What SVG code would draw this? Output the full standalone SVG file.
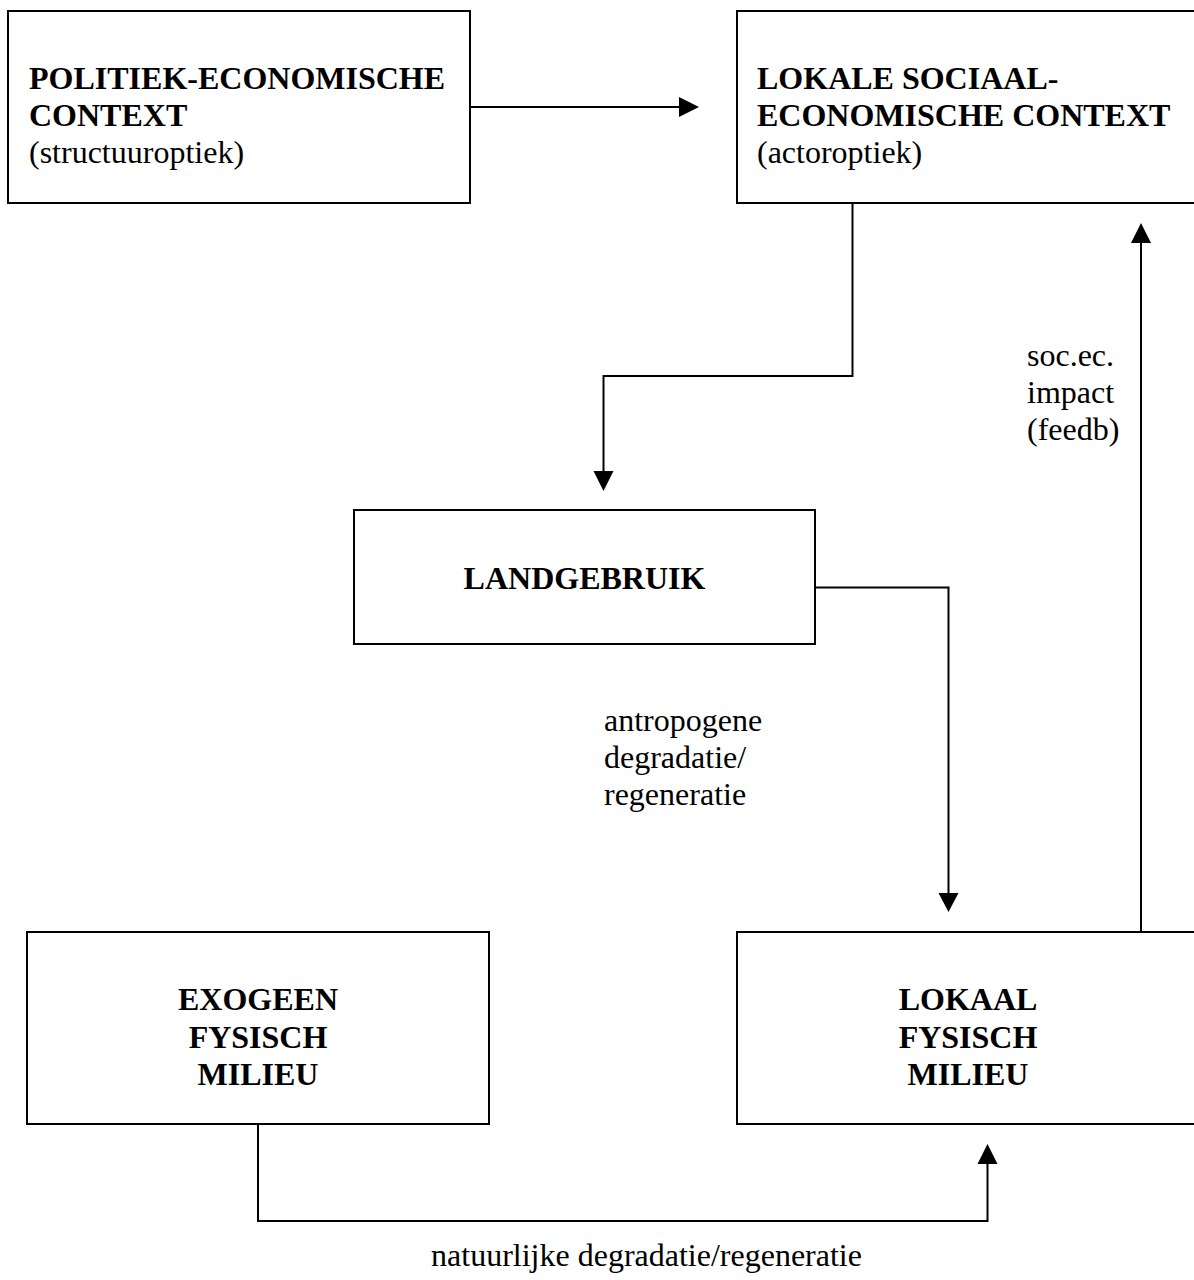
<svg xmlns="http://www.w3.org/2000/svg" width="1194" height="1280" viewBox="0 0 1194 1280">
<style>
.box{fill:#fff;stroke:#000;stroke-width:2}
.conn{fill:none;stroke:#000;stroke-width:2}
.head{fill:#000;stroke:none}
text{font-family:"Liberation Serif","Times New Roman",serif;font-size:32px;fill:#000}
.b{font-weight:bold}
.c{text-anchor:middle}
</style>
<rect width="1194" height="1280" fill="#fff"/>
<g id="node-politiek">
<rect class="box" x="8" y="11" width="462" height="192"/>
<text class="b" x="29" y="89">POLITIEK-ECONOMISCHE</text>
<text class="b" x="29" y="126">CONTEXT</text>
<text x="29" y="163">(structuuroptiek)</text>
</g>
<g id="node-lokale">
<rect class="box" x="737" y="11" width="462" height="192"/>
<text class="b" x="757" y="89">LOKALE SOCIAAL-</text>
<text class="b" x="757" y="126">ECONOMISCHE CONTEXT</text>
<text x="757" y="163">(actoroptiek)</text>
</g>
<g id="node-landgebruik">
<rect class="box" x="354" y="510" width="461" height="134"/>
<text class="b c" x="584.5" y="589">LANDGEBRUIK</text>
</g>
<g id="node-exogeen">
<rect class="box" x="27" y="932" width="462" height="192"/>
<text class="b c" x="258" y="1010">EXOGEEN</text>
<text class="b c" x="258" y="1047.5">FYSISCH</text>
<text class="b c" x="258" y="1085">MILIEU</text>
</g>
<g id="node-lokaal">
<rect class="box" x="737" y="932" width="462" height="192"/>
<text class="b c" x="968" y="1010">LOKAAL</text>
<text class="b c" x="968" y="1047.5">FYSISCH</text>
<text class="b c" x="968" y="1085">MILIEU</text>
</g>
<g id="connectors">
<path class="conn" d="M470 107 H680"/>
<polygon class="head" points="679,97 699,107 679,117"/>
<path class="conn" d="M852.5 203 V376 H603.5 V472"/>
<polygon class="head" points="593.5,471 613.5,471 603.5,491"/>
<path class="conn" d="M815 587.5 H948.5 V894"/>
<polygon class="head" points="938.5,893 958.5,893 948.5,912"/>
<path class="conn" d="M1141 932 V242"/>
<polygon class="head" points="1131,243 1151,243 1141,223"/>
<path class="conn" d="M258 1124 V1221 H987.5 V1163"/>
<polygon class="head" points="977.5,1164 997.5,1164 987.5,1144"/>
<text x="1027" y="366">soc.ec.</text>
<text x="1027" y="403">impact</text>
<text x="1027" y="440">(feedb)</text>
<text x="604" y="731">antropogene</text>
<text x="604" y="768">degradatie/</text>
<text x="604" y="805">regeneratie</text>
<text class="c" x="646.5" y="1266">natuurlijke degradatie/regeneratie</text>
</g>
</svg>
